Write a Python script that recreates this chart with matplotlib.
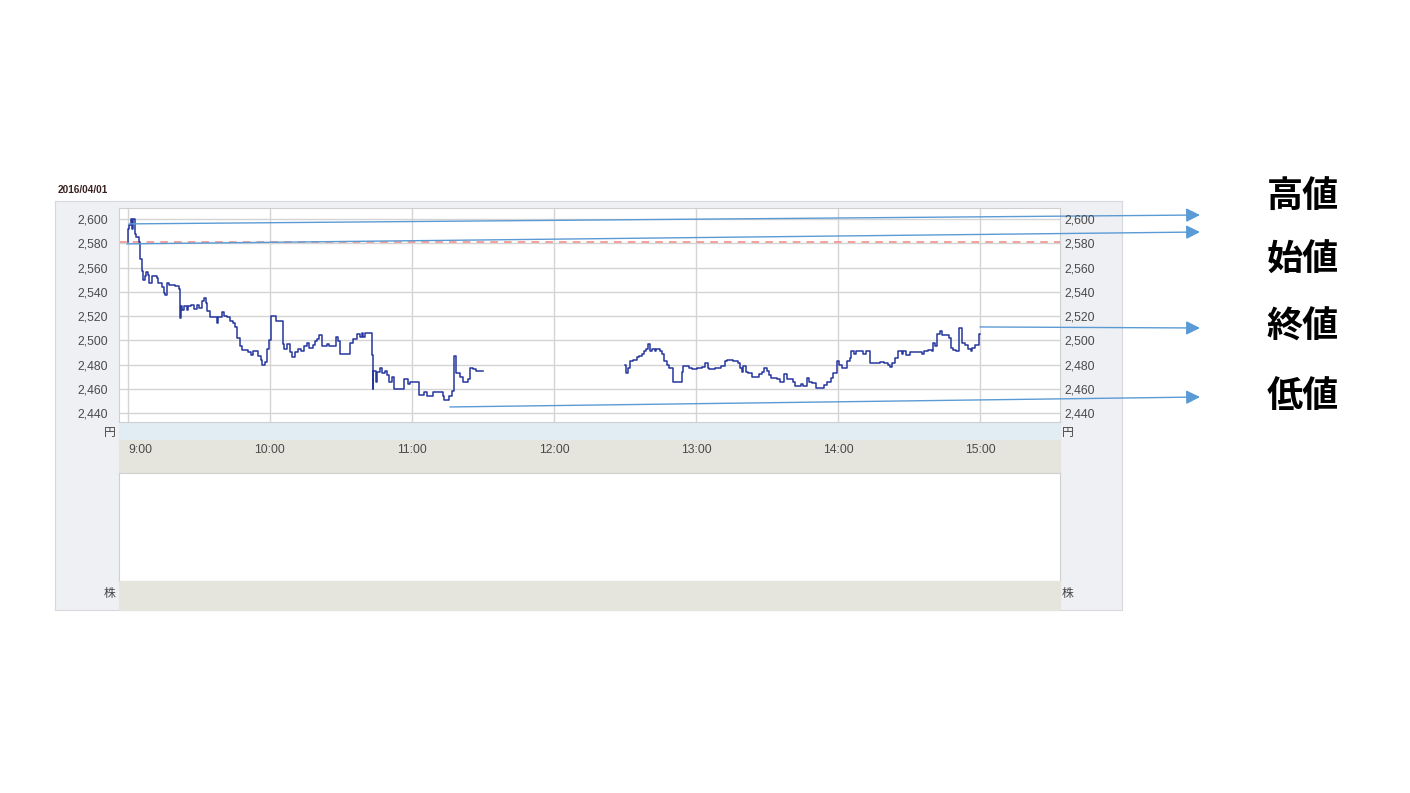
import matplotlib
matplotlib.use("Agg")
import matplotlib.pyplot as plt
from matplotlib.ticker import FuncFormatter

plt.rcParams["font.family"] = ["Liberation Sans", "Noto Sans CJK JP", "DejaVu Sans"]

DATE = "2016/04/01"
PREV_CLOSE = 2581

# 分 (9:00 起点), 株価
am_time = [0, 0.1, 0.6, 1.4, 1.8, 2.25, 2.8, 3.5, 4.65, 5.1, 5.9, 6.3, 7.2, 7.6, 8.45, 9.0,
           10.1, 12.25, 12.8, 14.4, 15.1, 15.5, 16.5, 17.5, 20.0, 21.4, 22.0, 22.3, 22.8,
           23.8, 24.8, 25.5, 26.5, 27.9, 29.0, 30.1, 31.4, 32.1, 32.8, 33.5, 34.6, 37.7,
           38.0, 39.6, 40.6, 41.7, 43.1, 44.2, 45.2, 46.2, 47.3, 48.2, 50.8, 51.8, 52.7,
           55.1, 56.2, 56.6, 58.0, 58.6, 59.4, 60.4, 62.4, 65.4, 66.0, 67.3, 68.4, 69.4,
           70.6, 72.0, 73.1, 74.4, 75.8, 76.6, 78.0, 79.0, 80.0, 80.8, 81.8, 84.2, 85.0,
           87.7, 88.9, 89.6, 93.8, 95.2, 96.6, 98.0, 98.7, 99.4, 100.1, 103.0, 103.4,
           103.6, 104.8, 105.3, 106.5, 107.5, 108.6, 109.3, 110.4, 111.4, 112.5, 116.7,
           118.4, 119.1, 123.1, 125.1, 126.2, 128.7, 133.0, 133.7, 135.8, 136.8, 137.7,
           138.6, 140.3, 141.7, 143.8, 144.5, 145.9, 147.0, 150]
am_price = [2581, 2592, 2595, 2600, 2592, 2600, 2588, 2585, 2581, 2567, 2557, 2550, 2553,
            2556, 2554, 2547, 2553, 2551, 2547, 2544, 2539, 2537, 2547, 2546, 2545, 2542,
            2518, 2528, 2525, 2528, 2525, 2528, 2529, 2526, 2529, 2527, 2532, 2535, 2531,
            2524, 2519, 2514, 2519, 2523, 2520, 2519, 2516, 2514, 2511, 2502, 2495, 2492,
            2490, 2488, 2491, 2487, 2484, 2480, 2482, 2493, 2500, 2520, 2516, 2497, 2493,
            2497, 2490, 2486, 2490, 2493, 2491, 2495, 2498, 2494, 2496, 2499, 2501, 2504,
            2495, 2497, 2495, 2503, 2499, 2489, 2498, 2501, 2505, 2503, 2506, 2503, 2506,
            2488, 2460, 2475, 2466, 2474, 2477, 2473, 2475, 2471, 2466, 2470, 2460, 2468,
            2464, 2466, 2455, 2457, 2454, 2457, 2454, 2451, 2454, 2458, 2487, 2473, 2470,
            2466, 2468, 2477, 2476, 2475, 2475]

pm_time = [210, 210.4, 211.4, 212.1, 213.5, 214.9, 215.9, 217.0, 218.1, 218.7, 219.8, 220.5,
           221.5, 222.6, 223.1, 224.7, 225.5, 226.6, 227.6, 228.6, 230.4, 233.9, 234.6,
           237.0, 238.2, 240.3, 242.6, 243.8, 244.9, 245.5, 248.0, 250.5, 252.2, 253.0,
           255.8, 257.6, 258.6, 259.3, 260.0, 261.0, 262.1, 263.5, 266.7, 268.0, 268.8,
           269.8, 270.8, 271.7, 274.1, 275.5, 277.3, 278.3, 281.1, 281.8, 284.3, 285.3,
           286.8, 287.8, 288.9, 290.6, 294.2, 295.2, 297.0, 298.0, 299.4, 300.4, 301.8,
           303.6, 305.0, 305.7, 306.8, 307.8, 310.7, 311.7, 313.5, 317.7, 319.6, 321.0,
           322.0, 322.7, 324.1, 325.5, 326.9, 327.6, 328.6, 330.4, 333.3, 335.6, 336.5,
           337.9, 339.6, 340.0, 341.0, 341.7, 343.1, 344.1, 346.9, 347.8, 348.8, 349.8,
           350.8, 351.3, 352.5, 353.7, 355.1, 356.1, 356.8, 357.9, 359.6, 360]
pm_price = [2480, 2473, 2477, 2483, 2484, 2486, 2487, 2489, 2491, 2493, 2497, 2491, 2493,
            2491, 2493, 2491, 2489, 2483, 2480, 2477, 2466, 2474, 2479, 2477, 2476, 2477,
            2478, 2481, 2477, 2476, 2477, 2479, 2483, 2484, 2483, 2481, 2477, 2474, 2479,
            2474, 2473, 2470, 2472, 2474, 2477, 2475, 2471, 2469, 2468, 2466, 2472, 2468,
            2466, 2462, 2464, 2462, 2469, 2466, 2465, 2461, 2463, 2466, 2469, 2473, 2483,
            2480, 2477, 2483, 2485, 2491, 2489, 2491, 2489, 2491, 2481, 2482, 2481, 2480,
            2478, 2481, 2485, 2491, 2489, 2491, 2488, 2490, 2490, 2489, 2491, 2492, 2491,
            2498, 2495, 2505, 2508, 2504, 2502, 2494, 2492, 2491, 2491, 2510, 2498, 2496,
            2493, 2491, 2494, 2496, 2505, 2505]

hour_labels = ["9:00", "10:00", "11:00", "12:00", "13:00", "14:00", "15:00"]
hour_pos = [0, 60, 120, 180, 240, 300, 360]
price_ticks = [2440, 2460, 2480, 2500, 2520, 2540, 2560, 2580, 2600]

# 注記: (ラベル, 始点 [分, 円], 矢印先 [px], ラベル位置 y [px])
notes = [("高値", (0.5, 2596), 215, 197),
         ("始値", (-0.5, 2579.5), 232, 260),
         ("終値", (360, 2511), 328, 327),
         ("低値", (136, 2445), 397, 396)]

W, H = 1410, 793
XLIM = (-3.8, 393.8)
YLIM = (2432.6, 2609.1)


def box(x0, y0, x1, y1):
    return [x0 / W, 1 - y1 / H, (x1 - x0) / W, (y1 - y0) / H]


def blank(ax, color, edge="#d0d0d0"):
    ax.set_facecolor(color)
    ax.set_xticks([])
    ax.set_yticks([])
    for s in ax.spines.values():
        s.set_color(edge)
        s.set_linewidth(0.8)


fig = plt.figure(figsize=(W / 100, H / 100), dpi=100)

bg = fig.add_axes(box(55, 201, 1122, 610))
blank(bg, "#eff0f4", "#d6d8dc")

strip = fig.add_axes(box(119, 422, 1060, 440))
blank(strip, "#e1edf3", "#e1edf3")
tband = fig.add_axes(box(119, 440, 1060, 473))
blank(tband, "#e6e5dd", "#e6e5dd")
vol = fig.add_axes(box(119, 473, 1060, 581))
blank(vol, "white", "#cfcfcf")
bband = fig.add_axes(box(119, 581, 1060, 610))
blank(bband, "#e6e5dd", "#e6e5dd")

ax = fig.add_axes(box(119, 208, 1060, 422))
ax.set_xlim(*XLIM)
ax.set_ylim(*YLIM)
ax.set_facecolor("white")
for s in ax.spines.values():
    s.set_color("#cfcfcf")
    s.set_linewidth(0.8)
ax.set_xticks(hour_pos)
ax.set_xticklabels([])
ax.set_yticks(price_ticks)
ax.yaxis.set_major_formatter(FuncFormatter(lambda v, _: f"{v:,.0f}"))
ax.tick_params(length=0, labelsize=8.8, labelcolor="#4a4a4a", pad=8)
ax.grid(True, color="#d4d4d4", lw=1)
ax.set_axisbelow(True)

ax2 = ax.twinx()
ax2.set_ylim(*YLIM)
ax2.set_yticks(price_ticks)
ax2.yaxis.set_major_formatter(FuncFormatter(lambda v, _: f"{v:,.0f}"))
ax2.tick_params(length=0, labelsize=8.8, labelcolor="#4a4a4a", pad=3)
for s in ax2.spines.values():
    s.set_visible(False)

ax.axhline(PREV_CLOSE, color="#f08a80", lw=1.1, ls=(0, (5, 4)), zorder=2)
ax.step(am_time, am_price, where="post", color="#26379e", lw=1.1, zorder=3)
ax.step(pm_time, pm_price, where="post", color="#26379e", lw=1.1, zorder=3)

tband.set_xlim(*XLIM)
tband.set_ylim(0, 1)
for pos, lab in zip(hour_pos, hour_labels):
    tband.text(pos, 0.7, lab, ha="left" if pos == 0 else "center", va="center",
               fontsize=8.8, color="#4a4a4a")

cjk = ["Noto Sans CJK JP", "DejaVu Sans"]
for x in (110, 1068):
    fig.text(x / W, 1 - 432 / H, "円", ha="center", va="center", fontsize=8.5,
             color="#444444", family=cjk)
    fig.text(x / W, 1 - 593 / H, "株", ha="center", va="center", fontsize=8.5,
             color="#444444", family=cjk)

fig.text(58 / W, 1 - 190 / H, DATE, ha="left", va="center", fontsize=7.2,
         fontweight="bold", color="#3a2222")

for lab, start, tip_y, lab_y in notes:
    ax.annotate("", xy=(1200 / W, 1 - tip_y / H), xycoords="figure fraction",
                xytext=start, textcoords="data", annotation_clip=False,
                arrowprops=dict(arrowstyle="-|>,head_length=0.4,head_width=0.2",
                                color="#5b9bd5", lw=1, mutation_scale=21,
                                shrinkA=0, shrinkB=0), zorder=5)
    fig.text(1303 / W, 1 - lab_y / H, lab, ha="center", va="center", fontsize=26,
             fontweight="bold", color="black", family=cjk)

fig.savefig("out.png", dpi=100)
